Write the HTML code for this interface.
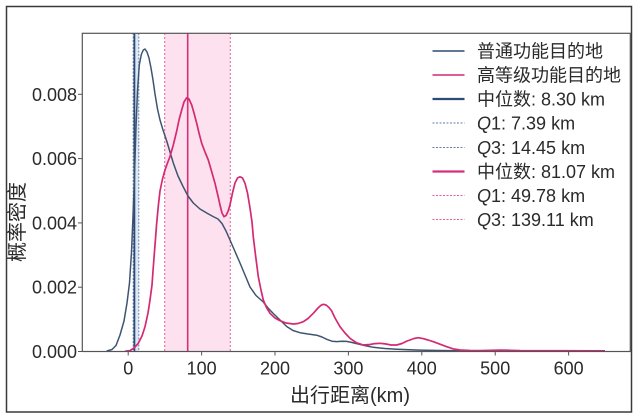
<!DOCTYPE html>
<html>
<head>
<meta charset="utf-8">
<style>
  html,body{margin:0;padding:0;background:#fff;}
  svg{display:block;}
  text{font-family:"Liberation Sans","Noto Sans CJK SC",sans-serif;fill:#2a2a2a;}
</style>
</head>
<body>
<svg width="639" height="420" viewBox="0 0 639 420" xmlns="http://www.w3.org/2000/svg">
  <rect x="0" y="0" width="639" height="420" fill="#fff"/>
  <!-- outer frame -->
  <rect x="6.5" y="6.5" width="625" height="405.5" fill="none" stroke="#3a3a3a" stroke-width="1.5"/>

  <!-- shaded IQR regions -->
  <rect x="164.7" y="33" width="65.6" height="318.5" fill="#fde1ef"/>
  <rect x="133.6" y="33" width="5.2" height="318.5" fill="#dce8f4"/>

  <!-- vertical quartile lines: pink -->
  <line x1="164.7" y1="33" x2="164.7" y2="351.5" stroke="#e0609e" stroke-width="1" stroke-dasharray="2,2"/>
  <line x1="230.3" y1="33" x2="230.3" y2="351.5" stroke="#e0609e" stroke-width="1" stroke-dasharray="2,2"/>
  <line x1="187.7" y1="33" x2="187.7" y2="351.5" stroke="#d6307a" stroke-width="1.6"/>
  <!-- blue -->
  <line x1="138.8" y1="33" x2="138.8" y2="351.5" stroke="#6a88b0" stroke-width="1" stroke-dasharray="2,1.5"/>
  <line x1="133.2" y1="33" x2="133.2" y2="351.5" stroke="#6a88b0" stroke-width="1" stroke-dasharray="2,1.5"/>
  <line x1="134.4" y1="33" x2="134.4" y2="351.5" stroke="#2d4b78" stroke-width="1.8"/>

  <!-- blue curve -->
  <polyline fill="none" stroke="#3e5572" stroke-width="1.5" stroke-linejoin="round" points="
  106.7,351 112,349.5 116,345.5 120,335 124,321 127,303 129.5,283 131.5,252 133,216 134.5,175 136,127 137.5,91 139.3,65 141.3,54.5 143.3,50 145,49 147,52 149,58 151,68 153,80 155,94 157.5,109 160,120 163,130 166.7,141 170,152 173.3,163 178,176 183.3,187 188,196 193.3,203 200,209 206.7,213 213,216.5 218,219 222,223.5 226,231 230,240 235,251.5 240,263 245,275 250,287 256,295.5 263.3,302 268,308 273.3,313.5 280,320 286.7,326.5 293,330.5 300,332.7 308,334 316.7,335.2 322,337 326.7,339.3 332,341.2 336.7,341.6 342,341.3 346.7,341.4 352,342.5 356.7,343.6 365,345.6 373.3,347.3 385,348.5 396.7,349.2 410,349.8 420,350.1 440,350.5 460,350.7 500,350.9 605,351"/>

  <!-- pink curve -->
  <polyline fill="none" stroke="#d42a73" stroke-width="1.7" stroke-linejoin="round" points="
  125,351.2 130,350.6 134,348 138.3,343.3 142,336 145,326.7 148,313 150,300 152,285 153.3,267 155,245 156.7,223 158.3,206 160,191 162.5,179 165,170 167.5,163 170,156.5 173.3,145 176.7,131 179,120 181.7,110 184,102 186.7,97.7 189,99 191.7,105 194,113 196.7,123.3 199,133 201.7,143.3 205,152 208.3,160 211.5,171 215,183.3 218,196 220,205 222,213 224,216.7 226,215.5 228,211.5 230,205 232.5,193 235,183 237.5,178 240,176.7 242.5,178 245,183.3 247.5,193 250,208 252,222 253.3,237 255.5,255 258.3,276.7 261,290 263.3,300 266.5,307.5 270,313.3 275,318 280,320.7 286,323 293.3,324 298,323.5 303.3,321.7 308,318.5 313.3,313.3 318,308 321,305.3 323.3,304.3 326,305 329,307.5 331.7,311 335,318 340,326.7 345,333 350,338.3 356,342.5 363.3,345 370,344.5 375,343.6 380,343.3 386,344 391,345 396.7,345 402,343.5 407,341 410,340 414,338.5 418.3,337.7 423,338.6 428,340 433.3,341.7 440,344.2 446.7,346.7 453,348.8 460,350 470,350.5 480,350.6 490,350.3 500,350.1 510,350.3 520,350.6 605,350.8"/>

  <!-- plot spines -->
  <rect x="82.3" y="33.3" width="548" height="318.2" fill="none" stroke="#555" stroke-width="1.2"/>

  <!-- y ticks -->
  <g stroke="#555" stroke-width="1">
    <line x1="78" y1="351.5" x2="82.3" y2="351.5"/>
    <line x1="78" y1="287.2" x2="82.3" y2="287.2"/>
    <line x1="78" y1="222.9" x2="82.3" y2="222.9"/>
    <line x1="78" y1="158.6" x2="82.3" y2="158.6"/>
    <line x1="78" y1="94.3" x2="82.3" y2="94.3"/>
  </g>
  <g font-size="18" text-anchor="end">
    <text x="77" y="358">0.000</text>
    <text x="77" y="293.7">0.002</text>
    <text x="77" y="229.4">0.004</text>
    <text x="77" y="165.1">0.006</text>
    <text x="77" y="100.8">0.008</text>
  </g>

  <!-- x ticks -->
  <g stroke="#555" stroke-width="1">
    <line x1="128.2" y1="351.5" x2="128.2" y2="355.5"/>
    <line x1="201.6" y1="351.5" x2="201.6" y2="355.5"/>
    <line x1="275" y1="351.5" x2="275" y2="355.5"/>
    <line x1="348.4" y1="351.5" x2="348.4" y2="355.5"/>
    <line x1="421.8" y1="351.5" x2="421.8" y2="355.5"/>
    <line x1="495.2" y1="351.5" x2="495.2" y2="355.5"/>
    <line x1="568.6" y1="351.5" x2="568.6" y2="355.5"/>
  </g>
  <g font-size="18" text-anchor="middle">
    <text x="128.2" y="374.5">0</text>
    <text x="201.6" y="374.5">100</text>
    <text x="275" y="374.5">200</text>
    <text x="348.4" y="374.5">300</text>
    <text x="421.8" y="374.5">400</text>
    <text x="495.2" y="374.5">500</text>
    <text x="568.6" y="374.5">600</text>
  </g>

  <!-- axis labels -->
  <text x="350" y="402" font-size="20" text-anchor="middle">出行距离(km)</text>
  <text x="0" y="0" font-size="20" text-anchor="middle" transform="translate(24,222) rotate(-90)">概率密度</text>

  <!-- legend -->
  <g>
    <line x1="432.5" y1="51" x2="464.5" y2="51" stroke="#2f4a72" stroke-width="1.6"/>
    <line x1="432.5" y1="75" x2="464.5" y2="75" stroke="#d42a73" stroke-width="1.6"/>
    <line x1="432.5" y1="99" x2="464.5" y2="99" stroke="#2d4b78" stroke-width="2.2"/>
    <line x1="432.5" y1="123" x2="464.5" y2="123" stroke="#5f7ea8" stroke-width="1" stroke-dasharray="2,1.5"/>
    <line x1="432.5" y1="147.5" x2="464.5" y2="147.5" stroke="#5f7ea8" stroke-width="1" stroke-dasharray="2,1.5"/>
    <line x1="432.5" y1="171.5" x2="464.5" y2="171.5" stroke="#d6307a" stroke-width="2.2"/>
    <line x1="432.5" y1="195.5" x2="464.5" y2="195.5" stroke="#e0609e" stroke-width="1" stroke-dasharray="2,1.5"/>
    <line x1="432.5" y1="219.5" x2="464.5" y2="219.5" stroke="#e0609e" stroke-width="1" stroke-dasharray="2,1.5"/>
  </g>
  <g font-size="18">
    <text x="477" y="57.5">普通功能目的地</text>
    <text x="477" y="81.5">高等级功能目的地</text>
    <text x="477" y="105.5">中位数: 8.30 km</text>
    <text x="477" y="129.5"><tspan font-style="italic">Q</tspan>1: 7.39 km</text>
    <text x="477" y="154">  <tspan font-style="italic">Q</tspan>3: 14.45 km</text>
    <text x="477" y="178">中位数: 81.07 km</text>
    <text x="477" y="202"><tspan font-style="italic">Q</tspan>1: 49.78 km</text>
    <text x="477" y="226"><tspan font-style="italic">Q</tspan>3: 139.11 km</text>
  </g>
</svg>
</body>
</html>
